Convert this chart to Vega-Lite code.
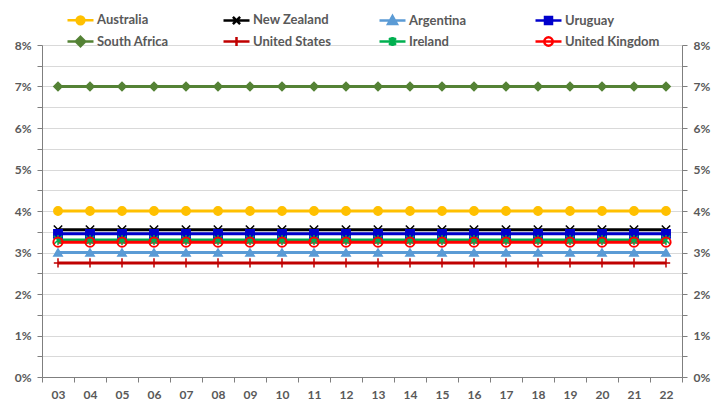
{
  "$schema": "https://vega.github.io/schema/vega-lite/v6.json",
  "width": 640,
  "height": 332,
  "autosize": "none",
  "padding": {"left": 42, "top": 45, "right": 31, "bottom": 28},
  "background": "white",
  "config": {
    "view": {"stroke": null},
    "font": "Lato",
    "axis": {"labelFont": "Lato", "labelFontWeight": "bold", "labelColor": "#595959", "labelFontSize": 12, "domainColor": "#7F7F7F", "tickColor": "#7F7F7F", "tickSize": 5, "title": null}
  },
  "data": {"values": [
    {"year":"03","country":"Australia","value":0.04},{"year":"03","country":"New Zealand","value":0.0355},{"year":"03","country":"Argentina","value":0.03},{"year":"03","country":"Uruguay","value":0.0345},{"year":"03","country":"South Africa","value":0.07},{"year":"03","country":"United States","value":0.0275},{"year":"03","country":"Ireland","value":0.033},{"year":"03","country":"United Kingdom","value":0.0325},
    {"year":"04","country":"Australia","value":0.04},{"year":"04","country":"New Zealand","value":0.0355},{"year":"04","country":"Argentina","value":0.03},{"year":"04","country":"Uruguay","value":0.0345},{"year":"04","country":"South Africa","value":0.07},{"year":"04","country":"United States","value":0.0275},{"year":"04","country":"Ireland","value":0.033},{"year":"04","country":"United Kingdom","value":0.0325},
    {"year":"05","country":"Australia","value":0.04},{"year":"05","country":"New Zealand","value":0.0355},{"year":"05","country":"Argentina","value":0.03},{"year":"05","country":"Uruguay","value":0.0345},{"year":"05","country":"South Africa","value":0.07},{"year":"05","country":"United States","value":0.0275},{"year":"05","country":"Ireland","value":0.033},{"year":"05","country":"United Kingdom","value":0.0325},
    {"year":"06","country":"Australia","value":0.04},{"year":"06","country":"New Zealand","value":0.0355},{"year":"06","country":"Argentina","value":0.03},{"year":"06","country":"Uruguay","value":0.0345},{"year":"06","country":"South Africa","value":0.07},{"year":"06","country":"United States","value":0.0275},{"year":"06","country":"Ireland","value":0.033},{"year":"06","country":"United Kingdom","value":0.0325},
    {"year":"07","country":"Australia","value":0.04},{"year":"07","country":"New Zealand","value":0.0355},{"year":"07","country":"Argentina","value":0.03},{"year":"07","country":"Uruguay","value":0.0345},{"year":"07","country":"South Africa","value":0.07},{"year":"07","country":"United States","value":0.0275},{"year":"07","country":"Ireland","value":0.033},{"year":"07","country":"United Kingdom","value":0.0325},
    {"year":"08","country":"Australia","value":0.04},{"year":"08","country":"New Zealand","value":0.0355},{"year":"08","country":"Argentina","value":0.03},{"year":"08","country":"Uruguay","value":0.0345},{"year":"08","country":"South Africa","value":0.07},{"year":"08","country":"United States","value":0.0275},{"year":"08","country":"Ireland","value":0.033},{"year":"08","country":"United Kingdom","value":0.0325},
    {"year":"09","country":"Australia","value":0.04},{"year":"09","country":"New Zealand","value":0.0355},{"year":"09","country":"Argentina","value":0.03},{"year":"09","country":"Uruguay","value":0.0345},{"year":"09","country":"South Africa","value":0.07},{"year":"09","country":"United States","value":0.0275},{"year":"09","country":"Ireland","value":0.033},{"year":"09","country":"United Kingdom","value":0.0325},
    {"year":"10","country":"Australia","value":0.04},{"year":"10","country":"New Zealand","value":0.0355},{"year":"10","country":"Argentina","value":0.03},{"year":"10","country":"Uruguay","value":0.0345},{"year":"10","country":"South Africa","value":0.07},{"year":"10","country":"United States","value":0.0275},{"year":"10","country":"Ireland","value":0.033},{"year":"10","country":"United Kingdom","value":0.0325},
    {"year":"11","country":"Australia","value":0.04},{"year":"11","country":"New Zealand","value":0.0355},{"year":"11","country":"Argentina","value":0.03},{"year":"11","country":"Uruguay","value":0.0345},{"year":"11","country":"South Africa","value":0.07},{"year":"11","country":"United States","value":0.0275},{"year":"11","country":"Ireland","value":0.033},{"year":"11","country":"United Kingdom","value":0.0325},
    {"year":"12","country":"Australia","value":0.04},{"year":"12","country":"New Zealand","value":0.0355},{"year":"12","country":"Argentina","value":0.03},{"year":"12","country":"Uruguay","value":0.0345},{"year":"12","country":"South Africa","value":0.07},{"year":"12","country":"United States","value":0.0275},{"year":"12","country":"Ireland","value":0.033},{"year":"12","country":"United Kingdom","value":0.0325},
    {"year":"13","country":"Australia","value":0.04},{"year":"13","country":"New Zealand","value":0.0355},{"year":"13","country":"Argentina","value":0.03},{"year":"13","country":"Uruguay","value":0.0345},{"year":"13","country":"South Africa","value":0.07},{"year":"13","country":"United States","value":0.0275},{"year":"13","country":"Ireland","value":0.033},{"year":"13","country":"United Kingdom","value":0.0325},
    {"year":"14","country":"Australia","value":0.04},{"year":"14","country":"New Zealand","value":0.0355},{"year":"14","country":"Argentina","value":0.03},{"year":"14","country":"Uruguay","value":0.0345},{"year":"14","country":"South Africa","value":0.07},{"year":"14","country":"United States","value":0.0275},{"year":"14","country":"Ireland","value":0.033},{"year":"14","country":"United Kingdom","value":0.0325},
    {"year":"15","country":"Australia","value":0.04},{"year":"15","country":"New Zealand","value":0.0355},{"year":"15","country":"Argentina","value":0.03},{"year":"15","country":"Uruguay","value":0.0345},{"year":"15","country":"South Africa","value":0.07},{"year":"15","country":"United States","value":0.0275},{"year":"15","country":"Ireland","value":0.033},{"year":"15","country":"United Kingdom","value":0.0325},
    {"year":"16","country":"Australia","value":0.04},{"year":"16","country":"New Zealand","value":0.0355},{"year":"16","country":"Argentina","value":0.03},{"year":"16","country":"Uruguay","value":0.0345},{"year":"16","country":"South Africa","value":0.07},{"year":"16","country":"United States","value":0.0275},{"year":"16","country":"Ireland","value":0.033},{"year":"16","country":"United Kingdom","value":0.0325},
    {"year":"17","country":"Australia","value":0.04},{"year":"17","country":"New Zealand","value":0.0355},{"year":"17","country":"Argentina","value":0.03},{"year":"17","country":"Uruguay","value":0.0345},{"year":"17","country":"South Africa","value":0.07},{"year":"17","country":"United States","value":0.0275},{"year":"17","country":"Ireland","value":0.033},{"year":"17","country":"United Kingdom","value":0.0325},
    {"year":"18","country":"Australia","value":0.04},{"year":"18","country":"New Zealand","value":0.0355},{"year":"18","country":"Argentina","value":0.03},{"year":"18","country":"Uruguay","value":0.0345},{"year":"18","country":"South Africa","value":0.07},{"year":"18","country":"United States","value":0.0275},{"year":"18","country":"Ireland","value":0.033},{"year":"18","country":"United Kingdom","value":0.0325},
    {"year":"19","country":"Australia","value":0.04},{"year":"19","country":"New Zealand","value":0.0355},{"year":"19","country":"Argentina","value":0.03},{"year":"19","country":"Uruguay","value":0.0345},{"year":"19","country":"South Africa","value":0.07},{"year":"19","country":"United States","value":0.0275},{"year":"19","country":"Ireland","value":0.033},{"year":"19","country":"United Kingdom","value":0.0325},
    {"year":"20","country":"Australia","value":0.04},{"year":"20","country":"New Zealand","value":0.0355},{"year":"20","country":"Argentina","value":0.03},{"year":"20","country":"Uruguay","value":0.0345},{"year":"20","country":"South Africa","value":0.07},{"year":"20","country":"United States","value":0.0275},{"year":"20","country":"Ireland","value":0.033},{"year":"20","country":"United Kingdom","value":0.0325},
    {"year":"21","country":"Australia","value":0.04},{"year":"21","country":"New Zealand","value":0.0355},{"year":"21","country":"Argentina","value":0.03},{"year":"21","country":"Uruguay","value":0.0345},{"year":"21","country":"South Africa","value":0.07},{"year":"21","country":"United States","value":0.0275},{"year":"21","country":"Ireland","value":0.033},{"year":"21","country":"United Kingdom","value":0.0325},
    {"year":"22","country":"Australia","value":0.04},{"year":"22","country":"New Zealand","value":0.0355},{"year":"22","country":"Argentina","value":0.03},{"year":"22","country":"Uruguay","value":0.0345},{"year":"22","country":"South Africa","value":0.07},{"year":"22","country":"United States","value":0.0275},{"year":"22","country":"Ireland","value":0.033},{"year":"22","country":"United Kingdom","value":0.0325}
  ]},
  "layer": [
    {
      "mark": {"type": "line", "strokeWidth": 3},
      "encoding": {
        "x": {"field": "year", "type": "ordinal", "scale": {"type": "band", "paddingInner": 0, "paddingOuter": 0},
              "axis": {"orient": "bottom", "labelAngle": 0, "tickBand": "extent", "labelPadding": 7, "grid": false}},
        "y": {"field": "value", "type": "quantitative", "scale": {"domain": [0, 0.08], "nice": false, "zero": true},
              "axis": {"orient": "left", "values": [0,0.005,0.01,0.015,0.02,0.025,0.03,0.035,0.04,0.045,0.05,0.055,0.06,0.065,0.07,0.075,0.08],
                       "labelExpr": "round(datum.value*1000) % 10 === 0 ? format(datum.value, '.0%') : ''",
                       "grid": true, "gridColor": "#D9D9D9", "labelPadding": 6}},
        "color": {"field": "country", "type": "nominal",
                  "scale": {"domain": ["Australia","New Zealand","Argentina","Uruguay","South Africa","United States","Ireland","United Kingdom"],
                            "range": ["#FFC000","#000000","#5B9BD5","#0000CC","#548235","#C00000","#00B050","#FF0000"]},
                  "legend": {
                    "orient": "none", "legendX": 27, "legendY": -37, "direction": "horizontal", "columns": 4, "title": null,
                    "gridAlign": "all", "columnPadding": 26, "rowPadding": -3,
                    "symbolSize": 400, "symbolStrokeWidth": 2.5, "symbolType": "stroke",
                    "labelFont": "Lato", "labelFontWeight": "bold", "labelFontSize": 13, "labelColor": "#595959", "labelOffset": 5, "labelLimit": 200,
                    "encode": {"symbols": {"update": {
                      "shape": {"signal": "['M-1.3,0L1.3,0M0.39,0A0.39,0.39,0,1,1,-0.39,0A0.39,0.39,0,1,1,0.39,0Z','M-1.3,0L1.3,0M-0.36,-0.36L0.36,0.36M-0.36,0.36L0.36,-0.36','M-1.3,0L1.3,0M0,-0.44L0.44,0.34L-0.44,0.34Z','M-1.3,0L1.3,0M-0.35,-0.35L0.35,-0.35L0.35,0.35L-0.35,0.35Z','M-1.3,0L1.3,0M0,-0.47L0.47,0L0,0.47L-0.47,0Z','M-1.3,0L1.3,0M0,-0.44L0,0.44','M-1.3,0L1.3,0M-0.34,-0.34L0.34,0.34M-0.34,0.34L0.34,-0.34M0,-0.44L0,0.44M-0.16,-0.39L-0.16,0.39M0.16,-0.39L0.16,0.39','M-1.3,0L1.3,0M0.42,0A0.42,0.42,0,1,1,-0.42,0A0.42,0.42,0,1,1,0.42,0Z'][indexof(['Australia','New Zealand','Argentina','Uruguay','South Africa','United States','Ireland','United Kingdom'], datum.value)]"},
                      "fill": {"signal": "['#FFC000','#000000','#5B9BD5','#0000CC','#548235','#C00000','#00B050','transparent'][indexof(['Australia','New Zealand','Argentina','Uruguay','South Africa','United States','Ireland','United Kingdom'], datum.value)]"},
                      "stroke": {"signal": "['#FFC000','#000000','#5B9BD5','#0000CC','#548235','#C00000','#00B050','#FF0000'][indexof(['Australia','New Zealand','Argentina','Uruguay','South Africa','United States','Ireland','United Kingdom'], datum.value)]"},
                      "strokeWidth": {"value": 2.5},
                      "opacity": {"value": 1}
                    }}}
                  }}
      }
    },
    {
      "transform": [{"filter": "datum.country !== 'United Kingdom'"}],
      "mark": {"type": "point", "filled": true, "size": 70, "strokeWidth": 1.5, "opacity": 1},
      "encoding": {
        "x": {"field": "year", "type": "ordinal", "scale": {"type": "band", "paddingInner": 0, "paddingOuter": 0}},
        "y": {"field": "value", "type": "quantitative", "scale": {"domain": [0, 0.08], "nice": false, "zero": true},
              "axis": {"orient": "right", "values": [0,0.005,0.01,0.015,0.02,0.025,0.03,0.035,0.04,0.045,0.05,0.055,0.06,0.065,0.07,0.075,0.08],
                       "labelExpr": "round(datum.value*1000) % 10 === 0 ? format(datum.value, '.0%') : ''",
                       "grid": false, "labelPadding": 6}},
        "fill": {"field": "country", "type": "nominal", "legend": null,
                 "scale": {"domain": ["Australia","New Zealand","Argentina","Uruguay","South Africa","United States","Ireland"],
                           "range": ["#FFC000","#000000","#5B9BD5","#0000CC","#548235","#C00000","#00B050"]}},
        "stroke": {"field": "country", "type": "nominal", "legend": null,
                 "scale": {"domain": ["Australia","New Zealand","Argentina","Uruguay","South Africa","United States","Ireland"],
                           "range": ["#FFC000","#000000","#5B9BD5","#0000CC","#548235","#C00000","#00B050"]}},
        "shape": {"field": "country", "type": "nominal", "legend": null,
                  "scale": {"domain": ["Australia","New Zealand","Argentina","Uruguay","South Africa","United States","Ireland"],
                            "range": ["circle","M-1,-1L1,1M-1,1L1,-1","triangle-up","square","diamond","M0,-1.1L0,1.1M-1,0L1,0","M-1,-1L1,1M-1,1L1,-1M0,-1.2L0,1.2"]}}
      }
    },
    {
      "transform": [{"filter": "datum.country === 'United Kingdom'"}],
      "mark": {"type": "point", "shape": "circle", "filled": false, "size": 85, "stroke": "#FF0000", "strokeWidth": 2, "opacity": 1},
      "encoding": {
        "x": {"field": "year", "type": "ordinal", "scale": {"type": "band", "paddingInner": 0, "paddingOuter": 0}},
        "y": {"field": "value", "type": "quantitative", "scale": {"domain": [0, 0.08], "nice": false, "zero": true}, "axis": null}
      }
    }
  ],
  "resolve": {"axis": {"y": "independent"}}
}
